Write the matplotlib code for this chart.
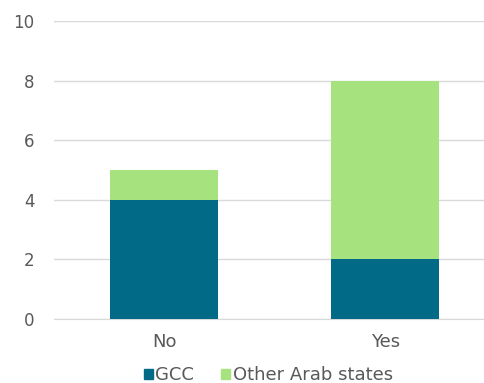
import matplotlib
matplotlib.use("Agg")
import matplotlib.pyplot as plt
from matplotlib.patches import Patch

categories = ["No", "Yes"]
gcc = [4, 2]
other = [1, 6]
yticks = [0, 2, 4, 6, 8, 10]

plt.rcParams['font.family'] = ['DejaVu Sans']
fig = plt.figure(figsize=(4.85, 3.83), dpi=100)
ax = fig.add_axes([0.1113, 0.167, 0.8887, 0.778])

c_gcc = "#006A87"
c_oth = "#A6E37E"
x = list(range(len(categories)))
ax.bar(x, gcc, width=0.49, color=c_gcc, label="GCC", zorder=3)
ax.bar(x, other, width=0.49, bottom=gcc, color=c_oth, label="Other Arab states", zorder=3)

ax.set_xlim(-0.498, 1.452)
ax.set_ylim(0, 10)
ax.set_yticks(yticks)
ax.set_xticks(x)
ax.set_xticklabels(categories)
ax.grid(axis='y', color="#D9D9D9", linewidth=1, zorder=0)
for s in ["top", "right", "left"]:
    ax.spines[s].set_visible(False)
ax.spines["bottom"].set_color("#D9D9D9")
ax.tick_params(axis='both', length=0, colors="#595959")
ax.tick_params(axis='y', pad=14, labelsize=12)
ax.tick_params(axis='x', pad=10, labelsize=13)

handles = [Patch(color=c_gcc, label="GCC"), Patch(color=c_oth, label="Other Arab states")]
fig.legend(handles=handles, loc="center", bbox_to_anchor=(0.5536, 0.02), ncol=2, frameon=False,
           fontsize=13, handlelength=0.5, handleheight=0.5, handletextpad=0.15, columnspacing=1.5,
           labelcolor="#595959", borderpad=0)

fig.savefig("out.png", dpi=100)
